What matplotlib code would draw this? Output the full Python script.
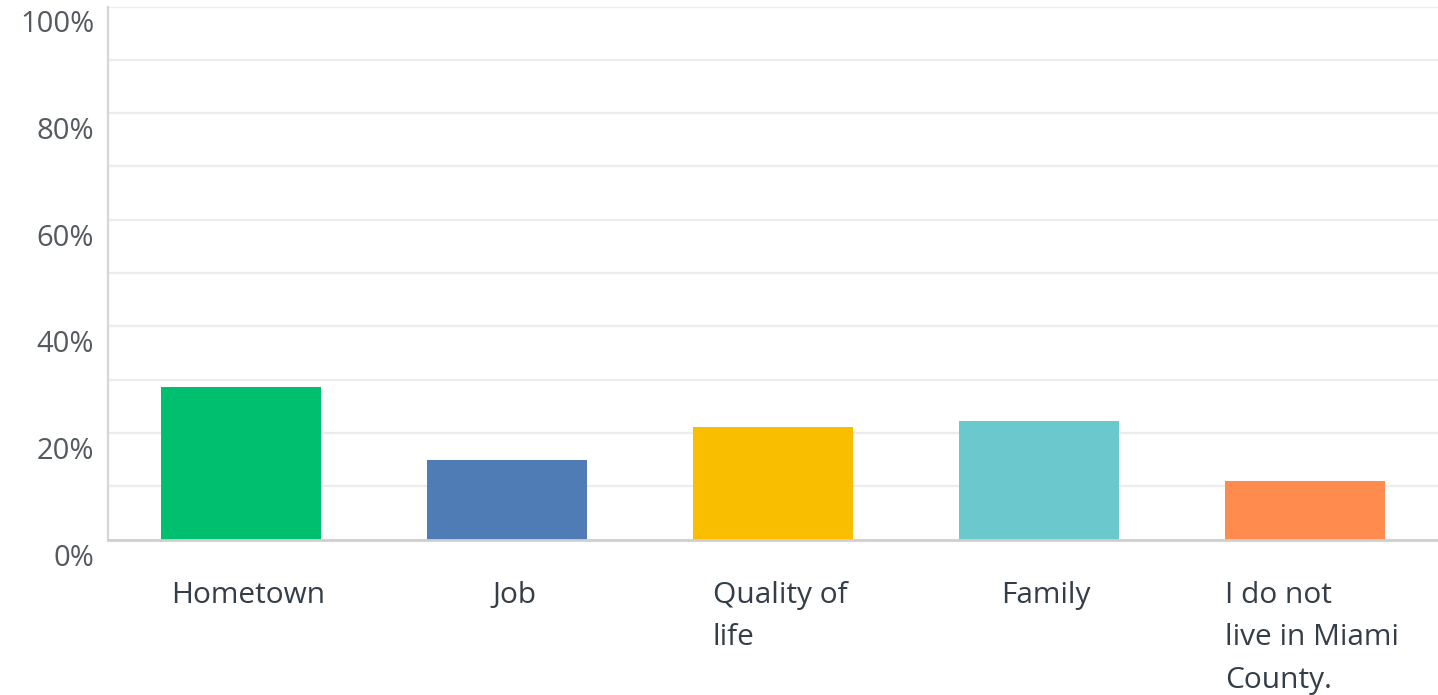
import matplotlib.pyplot as plt
import matplotlib.transforms as mtransforms
from matplotlib.ticker import FuncFormatter, MultipleLocator

# survey answers and share of respondents (%)
answers = ["Hometown", "Job", "Quality of\nlife", "Family", "I do not\nlive in Miami\nCounty."]
shares = [28.7, 15.0, 21.2, 22.2, 11.0]
colors = ["#00bf6f", "#507cb6", "#f9be00", "#6bc8cd", "#ff8b4f"]
y_ticks = [0, 20, 40, 60, 80, 100]

plt.rcParams["font.family"] = ["Open Sans", "DejaVu Sans"]

fig = plt.figure(figsize=(14.38, 6.95), dpi=100)
ax = fig.add_axes([108 / 1438, 1 - 539.5 / 695, 1 - 108 / 1438, 533 / 695])

x = range(len(answers))
ax.bar(x, shares, width=0.6, color=colors, zorder=3)

ax.set_xlim(-0.5, len(answers) - 0.5)
ax.set_ylim(0, 100)
ax.yaxis.set_minor_locator(MultipleLocator(10))
ax.set_yticks(y_ticks)
ax.yaxis.set_major_formatter(FuncFormatter(lambda v, p: f"{v:.0f}%"))
ax.grid(axis="y", which="both", color="#ececec", linewidth=1.6, zorder=0)

ax.set_xticks(list(x))
ax.set_xticklabels(answers, ha="center", multialignment="left",
                   va="top", linespacing=1.6)
ax.tick_params(axis="x", length=0, pad=30, labelsize=21.5, labelcolor="#333e48")
ax.tick_params(axis="y", which="both", length=0, pad=10,
               labelsize=21, labelcolor="#555a60")

# nudge the labels: percentages sit below their gridlines,
# category names a bit to the right
dpi_tr = fig.dpi_scale_trans
y_shift = mtransforms.ScaledTranslation(0, -15 / 100, dpi_tr)
for lbl in ax.get_yticklabels():
    lbl.set_transform(lbl.get_transform() + y_shift)
x_shift = mtransforms.ScaledTranslation(7 / 100, 0, dpi_tr)
for lbl in ax.get_xticklabels():
    lbl.set_transform(lbl.get_transform() + x_shift)

for side in ["top", "right"]:
    ax.spines[side].set_visible(False)
ax.spines["left"].set_color("#d6d6d6")
ax.spines["left"].set_linewidth(1.6)
ax.spines["bottom"].set_color("#cfcfcf")
ax.spines["bottom"].set_linewidth(2)
ax.spines["bottom"].set_zorder(4)

fig.savefig("out.png", dpi=100)
